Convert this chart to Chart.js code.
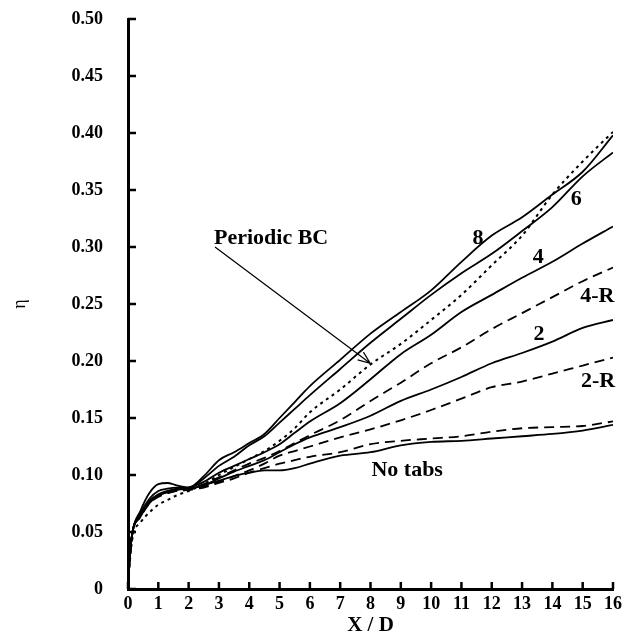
<!DOCTYPE html>
<html>
<head>
<meta charset="utf-8">
<script src="https://cdn.jsdelivr.net/npm/chart.js@4.4.0/dist/chart.umd.min.js"></script>
<style>
  html, body { margin: 0; padding: 0; background: #fff; }
</style>
</head>
<body>
<canvas id="etaChart" width="627" height="641"></canvas>
<script>
// ── Data ──
const xD = [0, 0.05, 0.15, 0.4, 0.7, 1.0, 1.3, 1.6, 2.0, 2.5, 3.0, 3.5, 4.0, 4.5, 5.0, 5.5, 6.0, 7, 8, 9, 10, 11, 12, 13, 14, 15, 16];

const tabs8    = [0, 0.025, 0.05, 0.068, 0.084, 0.092, 0.093, 0.091, 0.089, 0.099, 0.113, 0.120, 0.128, 0.136, 0.150, 0.164, 0.178, 0.201, 0.224, 0.243, 0.262, 0.287, 0.310, 0.326, 0.346, 0.366, 0.398];
const tabs6    = [0, 0.025, 0.05, 0.066, 0.079, 0.086, 0.088, 0.089, 0.089, 0.097, 0.108, 0.116, 0.126, 0.134, 0.146, 0.158, 0.170, 0.193, 0.216, 0.237, 0.258, 0.277, 0.294, 0.314, 0.335, 0.362, 0.383];
const tabs4    = [0, 0.025, 0.05, 0.065, 0.077, 0.083, 0.086, 0.088, 0.089, 0.094, 0.102, 0.108, 0.114, 0.120, 0.127, 0.137, 0.147, 0.163, 0.184, 0.206, 0.223, 0.243, 0.258, 0.273, 0.287, 0.303, 0.318];
const tabs4R   = [0, 0.025, 0.05, 0.064, 0.076, 0.082, 0.085, 0.087, 0.088, 0.092, 0.098, 0.104, 0.110, 0.115, 0.121, 0.128, 0.135, 0.148, 0.165, 0.181, 0.198, 0.212, 0.228, 0.242, 0.256, 0.270, 0.282];
const tabs2    = [0, 0.025, 0.05, 0.064, 0.076, 0.082, 0.085, 0.087, 0.088, 0.091, 0.097, 0.103, 0.108, 0.113, 0.120, 0.127, 0.133, 0.142, 0.152, 0.165, 0.175, 0.186, 0.198, 0.207, 0.217, 0.229, 0.236];
const tabs2R   = [0, 0.025, 0.05, 0.063, 0.075, 0.081, 0.084, 0.086, 0.087, 0.090, 0.094, 0.099, 0.104, 0.110, 0.117, 0.121, 0.125, 0.133, 0.140, 0.148, 0.157, 0.167, 0.177, 0.182, 0.189, 0.196, 0.203];
const noTabsR  = [0, 0.025, 0.05, 0.063, 0.075, 0.081, 0.084, 0.086, 0.087, 0.089, 0.093, 0.097, 0.102, 0.106, 0.110, 0.113, 0.116, 0.120, 0.127, 0.130, 0.132, 0.134, 0.138, 0.141, 0.142, 0.143, 0.147];
const noTabs   = [0, 0.025, 0.05, 0.063, 0.075, 0.082, 0.085, 0.087, 0.088, 0.091, 0.095, 0.099, 0.102, 0.104, 0.104, 0.106, 0.110, 0.117, 0.120, 0.126, 0.129, 0.130, 0.132, 0.134, 0.136, 0.139, 0.144];
const periodic = [0, 0.02, 0.045, 0.058, 0.067, 0.074, 0.078, 0.082, 0.086, 0.092, 0.100, 0.107, 0.114, 0.121, 0.130, 0.141, 0.155, 0.175, 0.197, 0.215, 0.236, 0.258, 0.284, 0.310, 0.346, 0.375, 0.401];

// curve labels, placed in data units
const labelText = ['8', '6', '4', '4-R', '2', '2-R', 'No tabs', 'Periodic BC'];
const labelX    = [11.55, 14.79, 13.53, 15.48, 13.56, 15.51, 9.21, 4.72];
const labelY    = [0.308, 0.342, 0.291, 0.257, 0.223, 0.182, 0.104, 0.308];

// arrow from "Periodic BC" to the dotted curve
const arrowFrom = [2.87, 0.300];
const arrowTo   = [7.99, 0.198];

const SERIF = "'Liberation Serif', 'Times New Roman', serif";
Chart.defaults.color = '#000';

function pts(vals) {
  return vals.map((v, i) => ({ x: xD[i], y: v }));
}

function line(label, vals, dash) {
  return {
    label: label,
    data: pts(vals),
    borderColor: '#000',
    borderWidth: dash && dash[0] < 4 ? 2 : 1.8,
    borderDash: dash || [],
    pointRadius: 0,
    fill: false,
    cubicInterpolationMode: 'monotone'
  };
}

// ── ticks inside the axes + text labels + arrow ──
const figureExtras = {
  id: 'figureExtras',
  afterDraw(chart) {
    const { ctx, chartArea } = chart;
    const xs = chart.scales.x;
    const ys = chart.scales.y;
    ctx.save();

    ctx.strokeStyle = '#000';
    ctx.lineWidth = 2.5;
    ctx.beginPath();
    xs.ticks.forEach(t => {
      const px = xs.getPixelForValue(t.value);
      ctx.moveTo(px, chartArea.bottom);
      ctx.lineTo(px, chartArea.bottom - 7);
    });
    ys.ticks.forEach(t => {
      const py = ys.getPixelForValue(t.value);
      ctx.moveTo(chartArea.left, py);
      ctx.lineTo(chartArea.left + 8, py);
    });
    ctx.stroke();

    // arrow
    const x1 = xs.getPixelForValue(arrowFrom[0]);
    const y1 = ys.getPixelForValue(arrowFrom[1]);
    const x2 = xs.getPixelForValue(arrowTo[0]);
    const y2 = ys.getPixelForValue(arrowTo[1]);
    const ang = Math.atan2(y2 - y1, x2 - x1);
    ctx.lineWidth = 1.2;
    ctx.beginPath();
    ctx.moveTo(x1, y1);
    ctx.lineTo(x2, y2);
    ctx.moveTo(x2 - 13 * Math.cos(ang - 0.38), y2 - 13 * Math.sin(ang - 0.38));
    ctx.lineTo(x2, y2);
    ctx.lineTo(x2 - 13 * Math.cos(ang + 0.38), y2 - 13 * Math.sin(ang + 0.38));
    ctx.stroke();

    // labels
    ctx.fillStyle = '#000';
    ctx.font = 'bold 22px ' + SERIF;
    ctx.textAlign = 'center';
    ctx.textBaseline = 'middle';
    for (let i = 0; i < labelText.length; i++) {
      ctx.fillText(labelText[i], xs.getPixelForValue(labelX[i]), ys.getPixelForValue(labelY[i]));
    }
    ctx.restore();
  }
};

const ctx = document.getElementById('etaChart').getContext('2d');
new Chart(ctx, {
  type: 'line',
  data: {
    datasets: [
      line('8', tabs8),
      line('6', tabs6),
      line('4', tabs4),
      line('4-R', tabs4R, [10, 6]),
      line('2', tabs2),
      line('2-R', tabs2R, [10, 6]),
      line('No tabs (R)', noTabsR, [10, 6]),
      line('No tabs', noTabs),
      line('Periodic BC', periodic, [3, 4])
    ]
  },
  options: {
    responsive: false,
    animation: false,
    layout: { padding: { top: 19, right: 14, bottom: 0, left: 0 } },
    plugins: { legend: { display: false }, tooltip: { enabled: false } },
    scales: {
      x: {
        type: 'linear', min: 0, max: 16,
        grid: { display: false, drawTicks: false },
        border: { display: true, color: '#000', width: 3 },
        ticks: { stepSize: 1, padding: 5, color: '#000', font: { family: SERIF, weight: 'bold', size: 18 } },
        title: { display: true, text: 'X / D', color: '#000', padding: { top: 0, bottom: 3 },
          font: { family: SERIF, weight: 'bold', size: 21 } },
        afterFit: s => { s.height = 52; s.paddingLeft = 0; s.paddingRight = 0; }
      },
      y: {
        type: 'linear', min: 0, max: 0.5,
        grid: { display: false, drawTicks: false },
        border: { display: true, color: '#000', width: 3 },
        ticks: {
          stepSize: 0.05, padding: 25, color: '#000',
          font: { family: SERIF, weight: 'bold', size: 18 },
          callback: v => (Math.abs(v) < 1e-9 ? '0' : v.toFixed(2))
        },
        title: { display: true, text: 'η', color: '#000', padding: { top: 9, bottom: 0 },
          font: { family: SERIF, size: 18 } },
        afterFit: s => { s.width = 128; s.paddingTop = 0; s.paddingBottom = 0; }
      }
    }
  },
  plugins: [figureExtras]
});
</script>
</body>
</html>
